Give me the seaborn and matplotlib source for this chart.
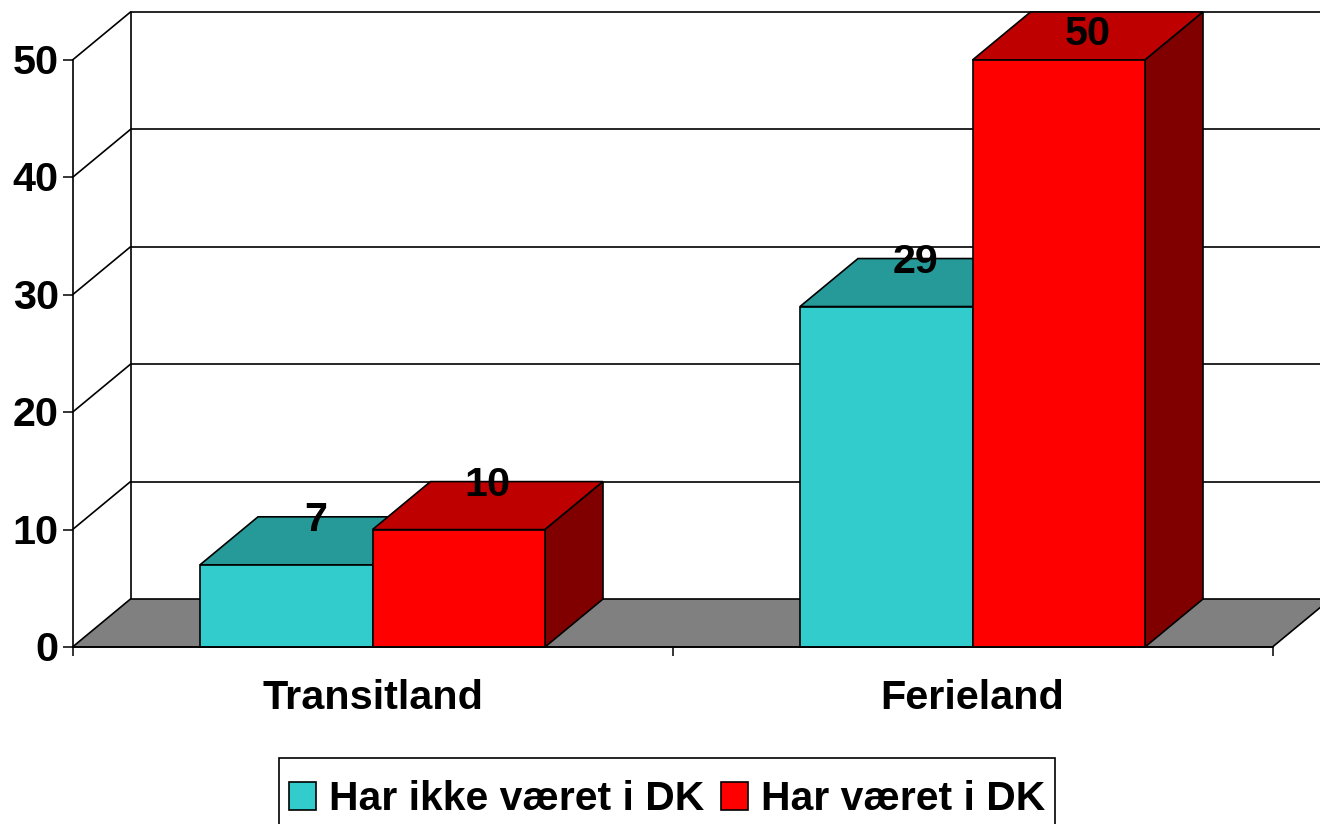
import matplotlib
matplotlib.use("Agg")
import matplotlib.pyplot as plt
import pandas as pd
import seaborn as sns
from matplotlib.patches import Polygon, Rectangle
from matplotlib.transforms import Affine2D

categories = ["Transitland", "Ferieland"]
series_names = ["Har ikke været i DK", "Har været i DK"]
not_been = [7, 29]
been = [10, 50]
y_ticks = [0, 10, 20, 30, 40, 50]

FRONT = ["#33CCCC", "#FF0000"]
TOP = ["#269999", "#BF0000"]
SIDE = ["#196666", "#800000"]
DX, DY = 58, 48
W, H = 1320, 824
LW = 1.2
FS = 29.8
LABEL_MAX_Y = H - 30  # highest centre a value label may take, in pixels from the bottom

sns.set_theme(style="white")
plt.rcParams["font.family"] = ["Liberation Sans", "DejaVu Sans"]
plt.rcParams["font.weight"] = "bold"

fig = plt.figure(figsize=(W / 100, H / 100), dpi=100)
ax = fig.add_axes([72.5 / W, 1 - 647 / H, 1200 / W, 587 / H])

df = pd.DataFrame({
    "land": categories * 2,
    "serie": [series_names[0]] * 2 + [series_names[1]] * 2,
    "antal": not_been + been,
})
sns.barplot(data=df, x="land", y="antal", hue="serie", hue_order=series_names,
            palette=FRONT, width=0.575, gap=0, saturation=1, edgecolor="black",
            linewidth=LW, ax=ax)
ax.set_xlim(-0.5, 1.5)
ax.set_ylim(0, 50)
ax.set_xlabel("")
ax.set_ylabel("")
sns.despine(ax=ax, top=True, right=True)
for s in ("left", "bottom"):
    ax.spines[s].set_color("black")
    ax.spines[s].set_linewidth(LW)
    ax.spines[s].set_zorder(6)

back = ax.transData + Affine2D().translate(DX, DY)

# Back wall, side wall and floor of the 3D box
x0, x1 = ax.get_xlim()
for v in y_ticks[1:]:
    ax.plot([x0, x1], [v, v], color="black", lw=LW, transform=back, clip_on=False, zorder=1)
    p0 = ax.transData.transform((x0, v))
    ax.add_line(plt.Line2D([p0[0], p0[0] + DX], [p0[1], p0[1] + DY], color="black", lw=LW,
                           transform=None, clip_on=False, zorder=1))
ax.plot([x0, x0], [0, y_ticks[-1]], color="black", lw=LW, transform=back, clip_on=False, zorder=1)
p00 = ax.transData.transform((x0, 0))
p10 = ax.transData.transform((x1, 0))
ax.add_patch(Polygon([p00, p00 + (DX, DY), p10 + (DX, DY), p10], closed=True, transform=None,
                     facecolor="#808080", edgecolor="black", lw=LW, clip_on=False, zorder=1.5))

# Bars with their top and side faces
z = 3.0
for i, container in enumerate(ax.containers):
    for bar in container:
        bar.set_zorder(z + 0.2)
        bar.set_clip_on(False)
        bx, by = bar.get_x(), bar.get_height()
        bw = bar.get_width()
        a = ax.transData.transform((bx, by))
        b = ax.transData.transform((bx + bw, by))
        c = ax.transData.transform((bx + bw, 0))
        off = (DX, DY)
        ax.add_patch(Polygon([a, a + off, b + off, b], closed=True, transform=None,
                             facecolor=TOP[i], edgecolor="black", lw=LW, clip_on=False, zorder=z))
        ax.add_patch(Polygon([b, b + off, c + off, c], closed=True, transform=None,
                             facecolor=SIDE[i], edgecolor="black", lw=LW, clip_on=False, zorder=z))
        px, py = ax.transData.transform((bx + bw / 2, by))
        ax.text(px + 29, min(py + 49, LABEL_MAX_Y), f"{int(by)}", transform=None,
                ha="center", va="center_baseline", fontsize=FS, fontweight="bold", color="black",
                zorder=7, clip_on=False)
    z += 1

ax.set_yticks(y_ticks)
ax.set_xticks([-0.5, 0.5, 1.5], labels=[])
ax.set_xticks([0, 1], labels=categories, minor=True)
ax.tick_params(axis="y", which="major", left=True, length=7, width=1.1, color="black",
               labelsize=FS, pad=4, labelcolor="black")
ax.tick_params(axis="x", which="major", bottom=True, length=6.5, width=1.1, color="black")
ax.tick_params(axis="x", which="minor", bottom=False, length=0, labelsize=FS, pad=23, labelcolor="black")
for lab in ax.get_yticklabels():
    lab.set_transform(lab.get_transform() + Affine2D().translate(1.5, 1))

handles, labels = ax.get_legend_handles_labels()
leg = ax.legend(handles, labels, ncol=2, loc="upper center",
                bbox_to_anchor=(667 / W, 1 - 766 / H), bbox_transform=fig.transFigure,
                prop={"size": 29.4, "weight": "bold"}, frameon=False, handlelength=0.65,
                handleheight=0.7, columnspacing=0.42, handletextpad=0.32, borderpad=0.35,
                borderaxespad=0)
leg.set_zorder(8)
for t in leg.get_texts():
    t.set_color("black")
fig.add_artist(Rectangle((279 / W, -0.02), 776 / W, 0.02 + 1 - 758 / H,
                         transform=fig.transFigure, facecolor="white", edgecolor="black",
                         lw=LW, zorder=-1))

fig.savefig("out.png", dpi=100, facecolor="white")
